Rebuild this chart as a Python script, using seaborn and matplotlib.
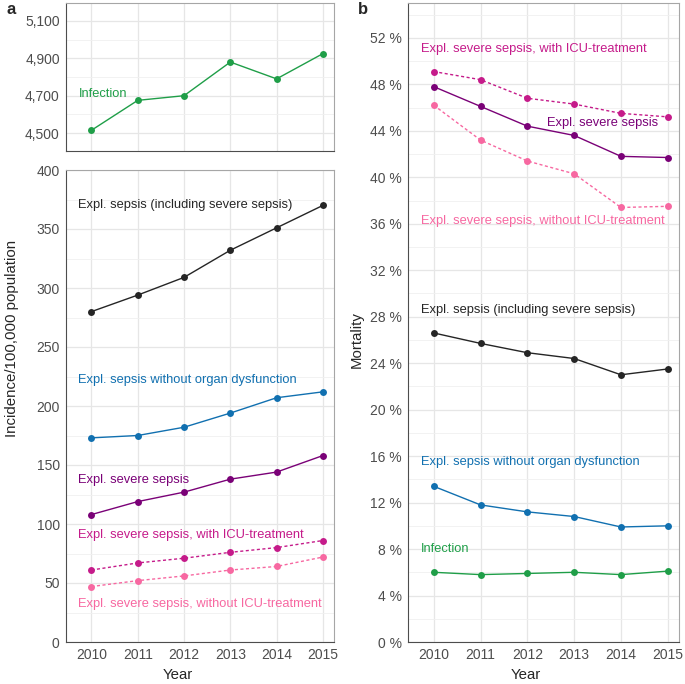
import matplotlib
matplotlib.use("Agg")
import matplotlib.pyplot as plt
import matplotlib.ticker as mticker
import numpy as np
import pandas as pd
import seaborn as sns

years = [2010, 2011, 2012, 2013, 2014, 2015]

# incidence per 100,000 population
inc_infection = [4515, 4675, 4700, 4880, 4790, 4925]
inc_sepsis = [280, 294, 309, 332, 351, 370]
inc_no_organ = [173, 175, 182, 194, 207, 212]
inc_severe = [108, 119, 127, 138, 144, 158]
inc_severe_icu = [61, 67, 71, 76, 80, 86]
inc_severe_no_icu = [47, 52, 56, 61, 64, 72]

# mortality in percent
mort_severe_icu = [49.1, 48.4, 46.8, 46.3, 45.5, 45.2]
mort_severe = [47.8, 46.1, 44.4, 43.6, 41.8, 41.7]
mort_severe_no_icu = [46.2, 43.2, 41.4, 40.3, 37.4, 37.5]
mort_sepsis = [26.6, 25.7, 24.9, 24.4, 23.0, 23.5]
mort_no_organ = [13.4, 11.8, 11.2, 10.8, 9.9, 10.0]
mort_infection = [6.0, 5.8, 5.9, 6.0, 5.8, 6.1]

names = ["Infection", "Expl. sepsis (including severe sepsis)",
         "Expl. sepsis without organ dysfunction", "Expl. severe sepsis",
         "Expl. severe sepsis, with ICU-treatment",
         "Expl. severe sepsis, without ICU-treatment"]
colors = ["#1f9e48", "#252525", "#1170b0", "#7a0177", "#c51b8a", "#f768a1"]
dashed = [False, False, False, False, True, True]

sns.set_style("white")
plt.rcParams["font.family"] = ["Liberation Sans", "DejaVu Sans"]

fig = plt.figure(figsize=(6.85, 6.84), dpi=100)
W, H = 685, 684


def px_axes(x0, y0, x1, y1):
    return fig.add_axes([x0 / W, 1 - y1 / H, (x1 - x0) / W, (y1 - y0) / H])


ax_top = px_axes(66, 3, 334, 151)
ax_bot = px_axes(66, 170, 334, 642)
ax_r = px_axes(408, 3, 679, 642)


def draw(ax, values, i):
    df = pd.DataFrame({"Year": years, "v": values})
    ls = (0, (2.2, 1.8)) if dashed[i] else "-"
    sns.lineplot(data=df, x="Year", y="v", ax=ax, color=colors[i],
                 linewidth=1.0, linestyle=ls, marker="o", markersize=5,
                 markeredgewidth=0)


def style(ax, ymin, ymax, major, minor):
    ax.set_xlim(2009.45, 2015.24)
    ax.set_ylim(ymin, ymax)
    ax.set_xticks(years)
    ax.yaxis.set_major_locator(mticker.MultipleLocator(major))
    ax.yaxis.set_minor_locator(mticker.MultipleLocator(minor))
    ax.grid(True, which="major", color="#e6e6e6", linewidth=0.9)
    ax.grid(True, which="minor", axis="y", color="#f0f0f0", linewidth=0.6)
    ax.set_axisbelow(True)
    ax.set_xlabel("")
    ax.set_ylabel("")
    for side in ["top", "right"]:
        ax.spines[side].set_color("#a6a6a6")
        ax.spines[side].set_linewidth(0.8)
    for side in ["left", "bottom"]:
        ax.spines[side].set_color("#4d4d4d")
        ax.spines[side].set_linewidth(0.8)
    ax.tick_params(axis="both", which="major", length=2.5, color="#4d4d4d",
                   labelsize=10, labelcolor="#4d4d4d", pad=2)
    ax.tick_params(axis="both", which="minor", length=0)


# panel a, top: infection
draw(ax_top, inc_infection, 0)
style(ax_top, 4404, 5196, 200, 100)
ax_top.set_yticks([4500, 4700, 4900, 5100])
ax_top.yaxis.set_minor_locator(mticker.FixedLocator([4600, 4800, 5000]))
ax_top.yaxis.set_major_formatter(mticker.StrMethodFormatter("{x:,.0f}"))
ax_top.tick_params(axis="x", labelbottom=False)
ax_top.text(2009.72, 4710, names[0], color=colors[0], fontsize=9.3, va="center")

# panel a, bottom
for i, vals in enumerate([inc_sepsis, inc_no_organ, inc_severe,
                          inc_severe_icu, inc_severe_no_icu], start=1):
    draw(ax_bot, vals, i)
style(ax_bot, 0, 400, 50, 25)
for i, y in zip(range(1, 6), [370, 222, 137.5, 91, 32]):
    ax_bot.text(2009.72, y, names[i], color=colors[i], fontsize=9.3, va="center")

# panel b
for i, vals in enumerate([mort_infection, mort_sepsis, mort_no_organ,
                          mort_severe, mort_severe_icu, mort_severe_no_icu]):
    draw(ax_r, vals, i)
style(ax_r, 0, 55, 4, 2)
ax_r.yaxis.set_major_formatter(mticker.FuncFormatter(lambda v, p: f"{v:.0f} %"))
label_pos = [(2009.72, 8.0), (2009.72, 28.6), (2009.72, 15.5),
             (2012.42, 44.7), (2009.72, 51.05), (2009.72, 36.2)]
for i, (x, y) in enumerate(label_pos):
    ax_r.text(x, y, names[i], color=colors[i], fontsize=9.3, va="center")

# axis titles and panel letters
fig.text(12 / W, 1 - 338 / H, "Incidence/100,000 population", rotation=90,
         ha="center", va="center", fontsize=10.8)
fig.text(357 / W, 1 - 340 / H, "Mortality", rotation=90,
         ha="center", va="center", fontsize=10.8)
fig.text(178 / W, 1 - 675 / H, "Year", ha="center", va="center", fontsize=10.8)
fig.text(526 / W, 1 - 675 / H, "Year", ha="center", va="center", fontsize=10.8)
fig.text(11 / W, 1 - 10 / H, "a", ha="center", va="center", fontsize=12,
         fontweight="bold")
fig.text(363 / W, 1 - 10 / H, "b", ha="center", va="center", fontsize=12,
         fontweight="bold")

fig.savefig("out.png", dpi=100)
